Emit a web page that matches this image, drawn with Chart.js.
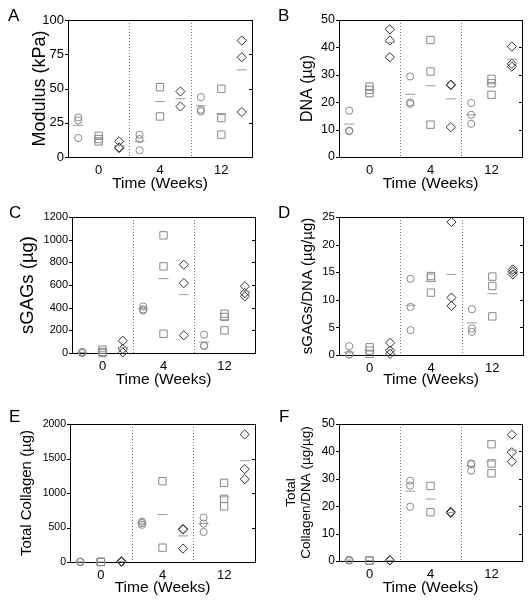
<!DOCTYPE html>
<html>
<head>
<meta charset="utf-8">
<script src="https://cdn.jsdelivr.net/npm/chart.js@4.4.1/dist/chart.umd.min.js"></script>
<style>
  body { margin: 0; background: #fff; width: 532px; height: 606px; position: relative; overflow: hidden;
         font-family: "Liberation Sans", Arial, sans-serif; }
  .cell { position: absolute; }
  .cell canvas { display: block; }
  .tag { position: absolute; font-size: 17px; color: #000; line-height: 1; }
</style>
</head>
<body>
<div class="cell" style="left:0;top:0"><canvas id="chartA" width="266" height="200"></canvas></div>
<div class="cell" style="left:266px;top:0"><canvas id="chartB" width="266" height="200"></canvas></div>
<div class="cell" style="left:0;top:200px"><canvas id="chartC" width="266" height="200"></canvas></div>
<div class="cell" style="left:266px;top:200px"><canvas id="chartD" width="266" height="200"></canvas></div>
<div class="cell" style="left:0;top:400px"><canvas id="chartE" width="266" height="206"></canvas></div>
<div class="cell" style="left:266px;top:400px"><canvas id="chartF" width="266" height="206"></canvas></div>
<div class="tag" style="left:8px;top:7px">A</div>
<div class="tag" style="left:278px;top:7px">B</div>
<div class="tag" style="left:9px;top:204px">C</div>
<div class="tag" style="left:278px;top:204px">D</div>
<div class="tag" style="left:9px;top:408px">E</div>
<div class="tag" style="left:279px;top:408px">F</div>
<script>
// --- 1. Data (one inner list per week: 0, 4, 12) ---
const weeks = ['0', '4', '12'];

// A: Modulus (kPa)
const modCircle = [[28.9, 26.7, 13.8], [16.3, 13.1, 4.9], [43.7, 34.5, 33.3]];
const modSquare = [[15.5, 13.1, 11.4], [51.0, 29.6], [49.8, 28.4, 16.3]];
const modDiamond = [[11.4, 7.0, 6.5], [47.8, 36.9], [85.0, 72.8, 32.8]];
const modMean = [[23.1, 13.8, 8.3], [11.4, 40.5, 42.5], [37.4, 31.6, 63.6]];

// B: DNA (ug)
const dnaCircle = [[16.9, 9.6, 9.4], [29.4, 19.9, 19.4], [19.7, 15.4, 12.1]];
const dnaSquare = [[25.7, 24.5, 23.3], [42.7, 31.2, 11.8], [28.5, 26.9, 22.7]];
const dnaDiamond = [[46.6, 42.5, 36.4], [26.4, 26.2, 10.9], [40.3, 34.0, 33.0]];
const dnaMean = [[12.0, 24.5, 41.8], [22.9, 26.0, 21.2], [15.4, 26.7, 35.7]];

// C: sGAGs (ug)
const gagCircle = [[10, 3, 0], [410, 385, 375], [162, 65, 62]];
const gagSquare = [[30, 10, 0], [1038, 764, 170], [347, 318, 200]];
const gagDiamond = [[108, 35, 5], [779, 617, 156], [588, 529, 500]];
const gagMean = [[5, 15, 49], [390, 656, 515], [97, 294, 547]];

// D: sGAGs/DNA (ug/ug)
const gagDnaCircle = [[1.6, 0.1, 0.1], [13.8, 8.7, 4.5], [8.3, 4.8, 4.2]];
const gagDnaSquare = [[1.4, 0.8, 0.2], [14.3, 14.0, 11.3], [14.2, 12.5, 7.0]];
const gagDnaDiamond = [[2.2, 0.8, 0.2], [24.1, 10.4, 8.9], [15.5, 15.1, 14.6]];
const gagDnaMean = [[0.5, 0.8, 1.0], [9.0, 13.3, 14.6], [5.8, 11.1, 15.1]];

// E: Total Collagen (ug)
const colCircle = [[4, 2, 1], [585, 565, 540], [644, 557, 436]];
const colSquare = [[2, 1, 0], [1171, 208], [1147, 915, 808]];
const colDiamond = [[10, 5, 3], [478, 470, 194], [1849, 1346, 1200]];
const colMean = [[2, 1, 6], [563, 687, 378], [557, 944, 1467]];

// F: Total Collagen/DNA (ug/ug)
const colDnaCircle = [[0.4, 0.3, 0.2], [29.3, 27.5, 19.8], [35.6, 35.3, 33.0]];
const colDnaSquare = [[0.2, 0.1], [27.4, 17.8], [42.6, 35.6, 32.0]];
const colDnaDiamond = [[0.3, 0.2], [17.9, 17.7, 17.6], [46.1, 39.7, 36.3]];
const colDnaMean = [[0.3, 0.2, 0.2], [25.5, 22.6, 17.7], [34.6, 36.5, 40.5]];

// --- 2. Helpers ---
// week w, marker type t (0 circle, 1 square, 2 diamond) -> slot on the x axis
const slot = (w, t) => 3 * w + t + 0.5;

function toPoints(groups, t) {
  const pts = [];
  groups.forEach((vals, w) => vals.forEach(v => pts.push({ x: slot(w, t), y: v })));
  return pts;
}

function meanPoints(means) {
  const pts = [];
  means.forEach((row, w) => row.forEach((v, t) => pts.push({ x: slot(w, t), y: v })));
  return pts;
}

// frame, dotted week separators and y tick marks
const framePlugin = {
  id: 'frame',
  beforeDatasetsDraw(chart) {
    const { ctx, chartArea: a, scales: { x, y } } = chart;
    ctx.save();
    ctx.strokeStyle = '#777';
    ctx.lineWidth = 1;
    ctx.setLineDash([1, 2]);
    [3, 6].forEach(v => {
      const px = Math.round(x.getPixelForValue(v)) + 0.5;
      ctx.beginPath();
      ctx.moveTo(px, a.top);
      ctx.lineTo(px, a.bottom);
      ctx.stroke();
    });
    ctx.setLineDash([]);
    ctx.strokeStyle = '#000';
    ctx.strokeRect(Math.round(a.left) + 0.5, Math.round(a.top) + 0.5,
                   Math.round(a.right - a.left), Math.round(a.bottom - a.top));
    y.ticks.forEach(t => {
      const py = Math.round(y.getPixelForValue(t.value)) + 0.5;
      ctx.beginPath();
      ctx.moveTo(Math.round(a.left) - 3, py);
      ctx.lineTo(Math.round(a.left), py);
      ctx.moveTo(Math.round(a.right) - 3, py);
      ctx.lineTo(Math.round(a.right), py);
      ctx.stroke();
    });
    ctx.restore();
  }
};

function makeChart(id, p) {
  const fam = '"Liberation Sans", Arial';
  const yLh = p.ySize * 1.15;
  const xLh = 15.5 * 1.2;
  return new Chart(document.getElementById(id), {
    type: 'scatter',
    data: {
      datasets: [
        { data: meanPoints(p.mean), pointStyle: 'line', radius: 5, borderColor: '#999', borderWidth: 1, clip: false },
        { data: toPoints(p.circle, 0), pointStyle: 'circle', radius: 3.6, borderColor: '#888',
          backgroundColor: 'rgba(0,0,0,0)', borderWidth: 1, clip: false },
        { data: toPoints(p.square, 1), pointStyle: 'rect', radius: 5.2, borderColor: '#888',
          backgroundColor: 'rgba(0,0,0,0)', borderWidth: 1, clip: false },
        { data: toPoints(p.diamond, 2), pointStyle: 'rectRot', radius: 4.6, borderColor: '#333',
          backgroundColor: 'rgba(0,0,0,0)', borderWidth: 1, clip: false }
      ]
    },
    options: {
      responsive: false,
      animation: false,
      events: [],
      layout: { padding: { left: 0, top: p.top, right: p.right, bottom: 0 } },
      plugins: { legend: { display: false }, tooltip: { enabled: false } },
      scales: {
        x: {
          type: 'linear', min: 0, max: 9,
          grid: { display: false, drawTicks: false },
          border: { display: false },
          afterBuildTicks: s => { s.ticks = [1.5, 4.5, 7.5].map(v => ({ value: v })); },
          afterFit: s => { s.height = p.xH; },
          ticks: {
            color: '#000', padding: 6, maxRotation: 0, autoSkip: false,
            font: { family: fam, size: 13 },
            callback: v => weeks[Math.round((v - 1.5) / 3)]
          },
          title: { display: true, text: 'Time (Weeks)', color: '#000',
                   font: { family: fam, size: 15.5, lineHeight: 1.2 },
                   padding: { top: 0, bottom: p.xTitleOff - xLh / 2 } }
        },
        y: {
          min: 0, max: p.yMax,
          grid: { display: false, drawTicks: false },
          border: { display: false },
          afterFit: s => { s.width = p.yW; },
          ticks: { stepSize: p.step, color: '#000', padding: 4,
                   font: { family: fam, size: p.tickSize },
                   callback: v => String(v) },
          title: { display: true, text: p.yTitle, color: '#000',
                   font: { family: fam, size: p.ySize, lineHeight: 1.15 },
                   padding: { top: p.yTitleX - yLh / 2, bottom: 0 } }
        }
      }
    },
    plugins: [framePlugin]
  });
}

// --- 3. Panels ---
makeChart('chartA', { circle: modCircle, square: modSquare, diamond: modDiamond, mean: modMean,
  yMax: 100, step: 25, yTitle: 'Modulus (kPa)', ySize: 18, tickSize: 13,
  top: 20, right: 14, yW: 68, xH: 43, yTitleX: 40, xTitleOff: 16 });

makeChart('chartB', { circle: dnaCircle, square: dnaSquare, diamond: dnaDiamond, mean: dnaMean,
  yMax: 50, step: 10, yTitle: 'DNA (µg)', ySize: 16, tickSize: 12.5,
  top: 20, right: 10, yW: 73, xH: 43, yTitleX: 42, xTitleOff: 16 });

makeChart('chartC', { circle: gagCircle, square: gagSquare, diamond: gagDiamond, mean: gagMean,
  yMax: 1200, step: 200, yTitle: 'sGAGs (µg)', ySize: 18.5, tickSize: 11,
  top: 17, right: 11, yW: 72, xH: 47, yTitleX: 28, xTitleOff: 20 });

makeChart('chartD', { circle: gagDnaCircle, square: gagDnaSquare, diamond: gagDnaDiamond, mean: gagDnaMean,
  yMax: 25, step: 5, yTitle: 'sGAGs/DNA (µg/µg)', ySize: 15, tickSize: 11.5,
  top: 17, right: 9, yW: 73, xH: 45, yTitleX: 42, xTitleOff: 20 });

makeChart('chartE', { circle: colCircle, square: colSquare, diamond: colDiamond, mean: colMean,
  yMax: 2000, step: 500, yTitle: 'Total Collagen (µg)', ySize: 15, tickSize: 10.5,
  top: 24, right: 11, yW: 70, xH: 44, yTitleX: 27, xTitleOff: 18 });

makeChart('chartF', { circle: colDnaCircle, square: colDnaSquare, diamond: colDnaDiamond, mean: colDnaMean,
  yMax: 50, step: 10, yTitle: ['Total', 'Collagen/DNA (µg/µg)'], ySize: 13.5, tickSize: 12,
  top: 24, right: 10, yW: 73, xH: 45, yTitleX: 25, xTitleOff: 18 });
</script>
</body>
</html>
